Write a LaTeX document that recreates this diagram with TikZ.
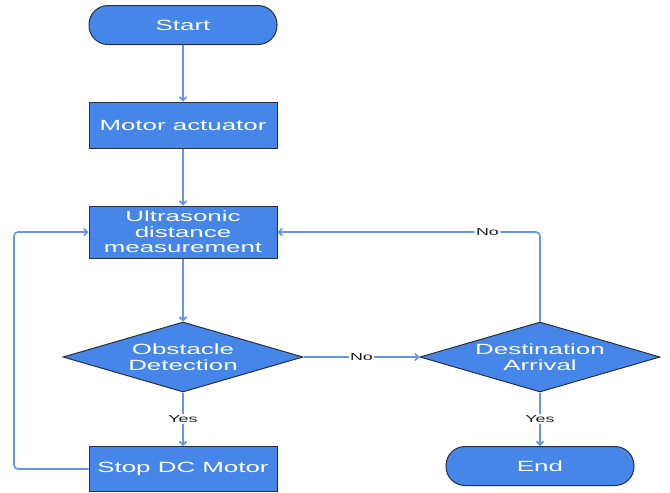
\documentclass[tikz,border=0pt]{standalone}
\usepackage{fontspec}
\setmainfont{Liberation Sans}
\newfontfamily\flowfont[FakeStretch=1.75]{Liberation Sans}
\usepackage{xcolor}
\usetikzlibrary{arrows.meta,positioning,shapes.geometric}
\definecolor{FlowBlue}{RGB}{70,134,232}
\definecolor{LineBlue}{RGB}{100,150,228}
\definecolor{EdgeGray}{RGB}{40,48,64}
\definecolor{LabelGray}{RGB}{30,30,30}

\begin{document}
\begin{tikzpicture}[x=1pt,y=-1pt,
    terminal/.style={draw=EdgeGray, line width=1pt, fill=FlowBlue, rounded corners=19pt,
      minimum width=188pt, minimum height=39pt, inner sep=0pt, text=white,
      font=\flowfont\fontsize{14.8}{15.5}\selectfont},
    procbox/.style={draw=EdgeGray, line width=1pt, fill=FlowBlue, minimum width=188pt,
      inner sep=0pt, align=center, text=white, font=\flowfont\fontsize{14.8}{15.5}\selectfont},
    decision/.style={diamond, draw=EdgeGray, line width=1pt, fill=FlowBlue, aspect=3.43,
      minimum width=240pt, minimum height=70pt, inner sep=0pt, align=center, text=white,
      font=\flowfont\fontsize{14.8}{15.5}\selectfont},
    flowline/.style={draw=LineBlue, line width=1.6pt, -{Straight Barb[length=3.5pt,width=7pt]}},
    branchlabel/.style={fill=white, inner sep=1.5pt, text=LabelGray,
      font=\flowfont\fontsize{10.2}{12}\selectfont}]
  \useasboundingbox (0,0) rectangle (670,493);
  % main column
  \node[terminal] (start) at (183,25) {Start};
  \node[procbox, minimum height=46pt] (motor) at (183,125) {Motor actuator};
  \node[procbox, minimum height=52pt] (ultra) at (183,232) {Ultrasonic\\distance\\measurement};
  \node[decision] (obst) at (183,357) {Obstacle\\Detection};
  \node[procbox, minimum height=45pt] (stop) at (183,469) {Stop DC Motor};
  % right column
  \node[decision] (dest) at (540,357) {Destination\\Arrival};
  \node[terminal] (end) at (540,466) {End};
  \coordinate (loopL) at (14,469);

  \draw[flowline] (start) -- (motor);
  \draw[flowline] (motor) -- (ultra);
  \draw[flowline] (ultra) -- (obst);
  \draw[flowline] (obst) -- node[branchlabel] {Yes} (stop);
  \draw[flowline] (obst) -- node[branchlabel] {No} (dest);
  \draw[flowline] (dest) -- node[branchlabel] {Yes} (end);
  \draw[flowline, rounded corners=4pt] (dest.north) |- node[branchlabel, pos=0.6] {No} (ultra.east);
  \draw[flowline, rounded corners=4pt] (stop.west) -- (loopL) |- (ultra.west);
\end{tikzpicture}
\end{document}
